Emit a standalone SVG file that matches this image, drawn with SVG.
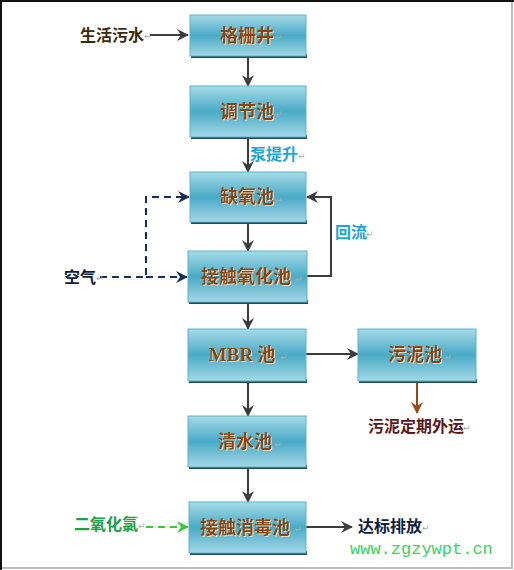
<svg xmlns="http://www.w3.org/2000/svg" width="514" height="570" viewBox="0 0 514 570">
<defs>
<linearGradient id="g" x1="0" y1="0" x2="0" y2="1">
<stop offset="0" stop-color="#a6dbe8"/>
<stop offset="0.5" stop-color="#4aaac6"/>
<stop offset="1" stop-color="#a3d8e6"/>
</linearGradient>
<filter id="ts" x="-10%" y="-20%" width="130%" height="150%">
<feDropShadow dx="1" dy="1" stdDeviation="0.4" flood-color="#f3dcb4" flood-opacity="0.9"/>
</filter>
<marker id="ah" markerUnits="userSpaceOnUse" markerWidth="12" markerHeight="12" refX="11" refY="6" orient="auto">
<path d="M0,0 L12,6 L0,12 L4,6 z" fill="#3c3c3c"/>
</marker>
<marker id="ahn" markerUnits="userSpaceOnUse" markerWidth="12" markerHeight="12" refX="11" refY="6" orient="auto">
<path d="M0,0 L12,6 L0,12 L4,6 z" fill="#1a2c5c"/>
</marker>
<marker id="ahg" markerUnits="userSpaceOnUse" markerWidth="12" markerHeight="12" refX="11" refY="6" orient="auto">
<path d="M0,0 L12,6 L0,12 L4,6 z" fill="#3cc43c"/>
</marker>
<marker id="ahb" markerUnits="userSpaceOnUse" markerWidth="12" markerHeight="12" refX="11" refY="6" orient="auto">
<path d="M0,0 L12,6 L0,12 L4,6 z" fill="#9a4a10"/>
</marker>
</defs>
<style>
.box{fill:url(#g);stroke:#5eb3c9;stroke-width:1}
.sh{fill:#1f4a5a}
.bt{font-family:"Noto Sans CJK SC","Liberation Serif",serif;font-weight:bold;font-size:18px;fill:#8a4512;text-anchor:middle;filter:url(#ts)}
.lb{font-family:"Noto Sans CJK SC","Liberation Sans",sans-serif;font-weight:bold;font-size:16px}
.pm{font-family:"DejaVu Sans",sans-serif;font-size:9px;fill:#aaaaaa}
.ln{fill:none;stroke:#3c3c3c;stroke-width:2}
.dn{fill:none;stroke:#1a2c5c;stroke-width:2;stroke-dasharray:7,5}
.dg{fill:none;stroke:#3cc43c;stroke-width:2;stroke-dasharray:7,5}
</style>
<rect x="0" y="0" width="514" height="570" fill="#ffffff"/>
<rect x="1" y="1" width="511" height="567" fill="none" stroke="#bcbcbc" stroke-width="2"/>
<line x1="0" y1="1" x2="514" y2="1" stroke="#111" stroke-width="2"/>
<line x1="1" y1="0" x2="1" y2="570" stroke="#111" stroke-width="2"/>

<g id="connectors">
<line class="ln" x1="150" y1="35" x2="188" y2="35" marker-end="url(#ah)"/>
<line class="ln" x1="248" y1="58" x2="248" y2="86" marker-end="url(#ah)"/>
<line class="ln" x1="248" y1="138" x2="248" y2="172" marker-end="url(#ah)"/>
<line class="ln" x1="248" y1="222" x2="248" y2="251" marker-end="url(#ah)"/>
<polyline class="dn" points="100,277 146,277 146,197 189,197" marker-end="url(#ahn)"/>
<line class="dn" x1="146" y1="277" x2="187" y2="277" marker-end="url(#ahn)"/>
<polyline class="ln" points="307,276 331,276 331,197 307,197" marker-end="url(#ah)"/>
<line class="ln" x1="248" y1="303" x2="248" y2="329" marker-end="url(#ah)"/>
<line class="ln" x1="306" y1="354" x2="358" y2="354" marker-end="url(#ah)"/>
<line x1="417" y1="382" x2="417" y2="413" stroke="#9a4a10" stroke-width="2" marker-end="url(#ahb)"/>
<line class="ln" x1="248" y1="382" x2="248" y2="416" marker-end="url(#ah)"/>
<line class="ln" x1="248" y1="468" x2="248" y2="502" marker-end="url(#ah)"/>
<line class="dg" x1="146" y1="527" x2="188" y2="527" marker-end="url(#ahg)"/>
<line class="ln" x1="306" y1="527" x2="352" y2="527" marker-end="url(#ah)"/>
</g>

<g id="n1">
<rect class="sh" x="191" y="54" width="116" height="4"/>
<rect class="box" x="190" y="15" width="116" height="41"/>
<text class="bt" x="247" y="42">格栅井</text><text class="pm" x="275" y="40">↵</text>
</g>
<g id="n2">
<rect class="sh" x="191" y="135" width="116" height="4"/>
<rect class="box" x="190" y="86" width="116" height="51"/>
<text class="bt" x="247" y="118">调节池</text><text class="pm" x="275" y="117">↵</text>
</g>
<g id="n3">
<rect class="sh" x="191" y="220" width="116" height="4"/>
<rect class="box" x="190" y="172" width="116" height="50"/>
<text class="bt" x="247" y="203">缺氧池</text><text class="pm" x="275" y="203">↵</text>
</g>
<g id="n4">
<rect class="sh" x="189" y="300" width="119" height="4"/>
<rect class="box" x="188" y="251" width="119" height="51"/>
<text class="bt" x="246" y="283">接触氧化池</text><text class="pm" x="295" y="282">↵</text>
</g>
<g id="n5">
<rect class="sh" x="189" y="379" width="118" height="4"/>
<rect class="box" x="188" y="329" width="118" height="52"/>
<text class="bt" x="242" y="361"><tspan font-family="Liberation Serif" font-size="19">MBR</tspan> 池</text><text class="pm" x="280" y="360">↵</text>
</g>
<g id="n6">
<rect class="sh" x="359" y="379" width="118" height="4"/>
<rect class="box" x="358" y="329" width="118" height="52"/>
<text class="bt" x="415" y="361">污泥池</text><text class="pm" x="444" y="360">↵</text>
</g>
<g id="n7">
<rect class="sh" x="189" y="465" width="118" height="4"/>
<rect class="box" x="188" y="416" width="118" height="51"/>
<text class="bt" x="245" y="448">清水池</text><text class="pm" x="274" y="447">↵</text>
</g>
<g id="n8">
<rect class="sh" x="190" y="551" width="117" height="4"/>
<rect class="box" x="189" y="502" width="117" height="51"/>
<text class="bt" x="245" y="534">接触消毒池</text><text class="pm" x="294" y="532">↵</text>
</g>

<g id="labels">
<text class="lb" x="80" y="41" fill="#3a2a10">生活污水</text><text class="pm" x="144" y="39">↵</text>
<text class="lb" x="250" y="160" fill="#1ea5d6">泵提升</text><text class="pm" x="298" y="159">↵</text>
<text class="lb" x="64" y="283" fill="#0e1e40" font-weight="normal">空气</text><text class="pm" x="96" y="281">↵</text>
<text class="lb" x="335" y="238" fill="#1ea5d6">回流</text><text class="pm" x="366" y="237">↵</text>
<text class="lb" x="368" y="432" fill="#5a1a20">污泥定期外运</text><text class="pm" x="463" y="431">↵</text>
<text class="lb" x="74" y="530" fill="#20a048">二氧化氯</text><text class="pm" x="138" y="529">↵</text>
<text class="lb" x="358" y="532" fill="#0e1e40">达标排放</text><text class="pm" x="422" y="531">↵</text>
<text x="350" y="554" font-family="Liberation Mono, monospace" font-size="17" fill="#40d060">www.zgzywpt.cn</text>
</g>
</svg>
